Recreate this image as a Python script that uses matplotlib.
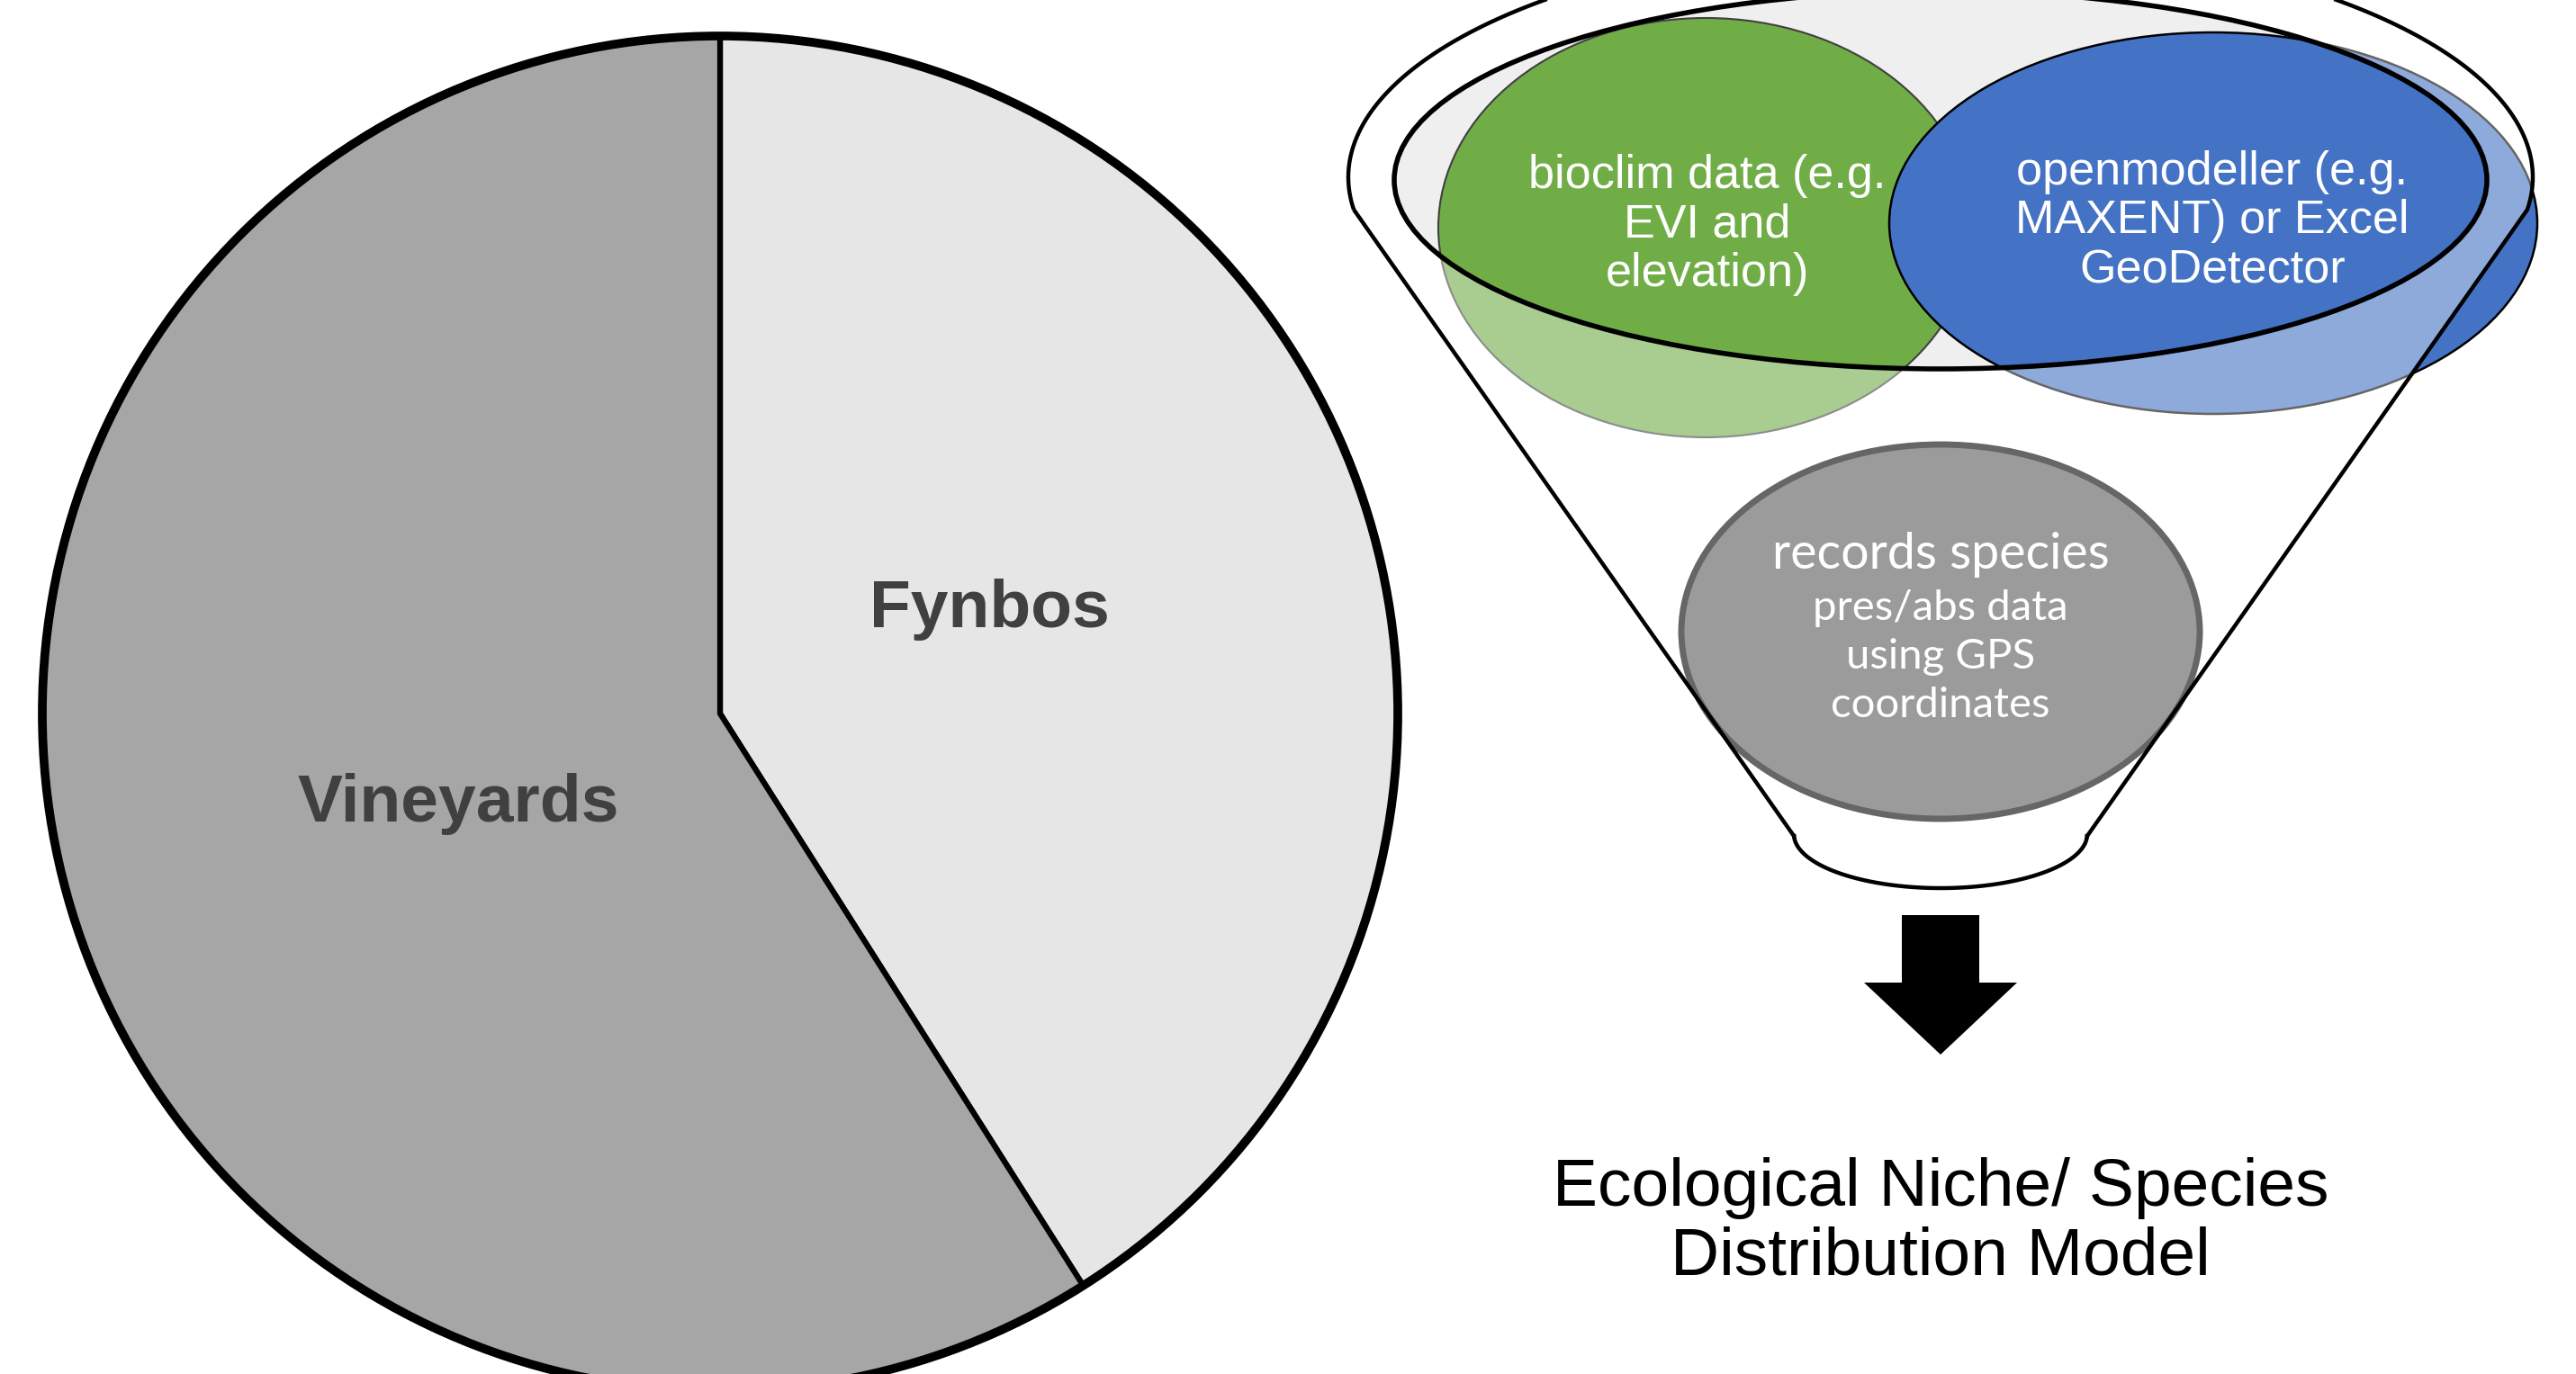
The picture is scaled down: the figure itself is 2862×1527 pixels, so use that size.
import numpy as np
import matplotlib
matplotlib.use("Agg")
import matplotlib.pyplot as plt
from matplotlib.patches import Ellipse, Circle, PathPatch, FancyArrow
from matplotlib.path import Path

# pie data
land_use = ["Fynbos", "Vineyards"]
share = [41, 59]
pie_colors = ["#E6E6E6", "#A6A6A6"]

# funnel labels
env_text = "bioclim data (e.g.\nEVI and\nelevation)"
model_text = "openmodeller (e.g.\nMAXENT) or Excel\nGeoDetector"
records_title = "records species"
records_text = "pres/abs data\nusing GPS\ncoordinates"
result_text = "Ecological Niche/ Species\nDistribution Model"

W, H = 2862, 1527
fig = plt.figure(figsize=(W / 100, H / 100), dpi=100)

# ---- pie (left) ----
cx, cy, r = 800, 793, 753
pad = 1.02
side = 2 * r * pad
ax = fig.add_axes([(cx - r * pad) / W, (H - cy - r * pad) / H, side / W, side / H])
wedges, texts = ax.pie(
    share, labels=land_use, colors=pie_colors, startangle=90, counterclock=False,
    labeldistance=0.42,
    wedgeprops=dict(edgecolor="black", linewidth=4.5),
    textprops=dict(fontsize=54, fontweight="bold", color="#404040",
                   family="Liberation Sans", ha="center", va="center"),
)
texts[0].set_position((0.397, 0.154))
texts[1].set_position((-0.386, -0.134))
ax.add_patch(Circle((0, 0), 1, fill=False, lw=7, ec="black"))
ax.set_xlim(-pad, pad)
ax.set_ylim(-pad, pad)
ax.set_aspect("equal")
ax.axis("off")

# ---- funnel diagram (right), drawn in pixel coords ----
dx = fig.add_axes([0, 0, 1, 1])
dx.set_xlim(0, W)
dx.set_ylim(H, 0)
dx.axis("off")

fx = 2156
rim_cy, rim_a, rim_b = 197, 658, 265
kink_y = 233
bot_cy, bot_a, bot_b = 927, 163, 60
inner_cy, inner_a, inner_b = 200, 607, 210

t0 = np.arcsin((kink_y - rim_cy) / rim_b)
t = np.linspace(np.pi + t0, -t0, 200)
top = np.column_stack([fx + rim_a * np.cos(t), rim_cy - rim_b * np.sin(t)])
tb = np.linspace(0, np.pi, 80)
bottom = np.column_stack([fx + bot_a * np.cos(tb), bot_cy + bot_b * np.sin(tb)])
body = np.vstack([top, [[fx + bot_a, 929]], bottom, [[fx - bot_a, 929]], top[:1]])

ti = np.linspace(0, 2 * np.pi, 300)
inner = np.column_stack([fx + inner_a * np.cos(ti), inner_cy - inner_b * np.sin(ti)])

body_codes = [Path.MOVETO] + [Path.LINETO] * (len(body) - 2) + [Path.CLOSEPOLY]
inner_codes = [Path.MOVETO] + [Path.LINETO] * (len(inner) - 2) + [Path.CLOSEPOLY]

dx.add_patch(PathPatch(Path(body, body_codes), fc="white", ec="none", zorder=1))
dx.add_patch(Ellipse((fx, inner_cy), 2 * inner_a, 2 * inner_b, fc="#EFEFEF", ec="none", zorder=2))
dx.add_patch(Ellipse((1895, 253), 594, 466, fc="#70AD47", ec="#404040", lw=1.5, zorder=3))
dx.add_patch(Ellipse((2459, 248), 720, 424, fc="#4472C4", ec="black", lw=1.8, zorder=4))

# translucent funnel face over the ellipses (opening left clear)
overlay = Path(np.vstack([body, inner]), body_codes + inner_codes)
dx.add_patch(PathPatch(overlay, fc="white", ec="none", alpha=0.4, zorder=5))

dx.add_patch(Ellipse((fx, 702), 576, 416, fc="#9B9B9B", ec="#666666", lw=5, zorder=5.5))

dx.add_patch(PathPatch(Path(body, body_codes), fill=False, ec="black", lw=3.2, zorder=6))
dx.add_patch(Ellipse((fx, inner_cy), 2 * inner_a, 2 * inner_b, fill=False, ec="black", lw=4, zorder=6))

dx.text(1897, 250, env_text, ha="center", va="center", color="white", fontsize=37.5,
        family="Liberation Sans", linespacing=1.15, zorder=7)
dx.text(2458, 246, model_text, ha="center", va="center", color="white", fontsize=37.5,
        family="Liberation Sans", linespacing=1.15, zorder=7)
dx.text(fx, 617, records_title, ha="center", va="center", color="white", fontsize=40,
        family="Lato", zorder=7)
dx.text(fx, 730, records_text, ha="center", va="center", color="white", fontsize=34,
        family="Lato", linespacing=1.35, zorder=7)

dx.add_patch(FancyArrow(fx, 1017, 0, 155, width=86, head_width=170, head_length=80,
                        length_includes_head=True, fc="black", ec="none", zorder=7))

dx.text(fx, 1359, result_text, ha="center", va="center", color="black", fontsize=54,
        family="Liberation Sans", linespacing=1.13, zorder=7)

fig.savefig("out.png", dpi=100)
